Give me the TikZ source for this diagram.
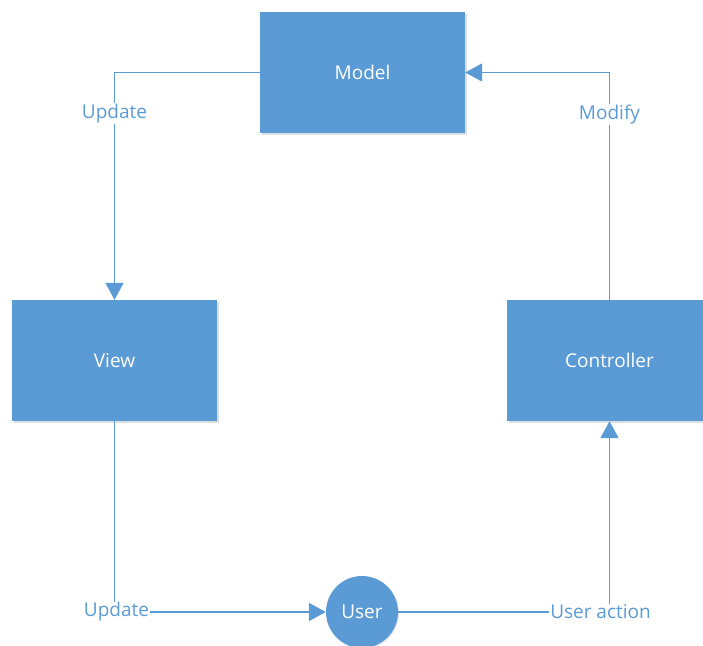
\documentclass[tikz,border=0pt]{standalone}
\usepackage{fontspec}
\setmainfont{Open Sans}
\usetikzlibrary{arrows.meta,shadows}
\definecolor{mvcblue}{RGB}{91,155,213}
\tikzset{
  block/.style={rectangle, fill=mvcblue, text=white, minimum width=205pt,
    minimum height=121pt, inner sep=0pt, font=\fontsize{19}{21}\selectfont,
    drop shadow={shadow xshift=1.5pt, shadow yshift=-1.5pt, opacity=0.25, fill=gray}},
  actor/.style={circle, fill=mvcblue, text=white, minimum size=72pt, inner sep=0pt,
    font=\fontsize{19}{21}\selectfont,
    drop shadow={shadow xshift=1pt, shadow yshift=-1pt, opacity=0.2, fill=gray}},
  link/.style={draw=mvcblue, line width=1.8pt, -{Triangle[length=17pt,width=18pt]}},
  tag/.style={fill=white, text=mvcblue, inner sep=1pt, font=\fontsize{19}{21}\selectfont}
}
\begin{document}
\begin{tikzpicture}[x=1pt, y=-1pt]
  \useasboundingbox (0,0) rectangle (703,645);

  \node[block] (model) at (362.5,72.5) {Model};
  \node[block] (view) at (114.5,360.5) {View};
  \node[block] (controller) at (609.5,360.5) {Controller};
  \node[actor] (user) at (362,612) {User};

  % model updates the view
  \draw[link] (model.west) -| (view.north)
    node[tag, pos=0.59] {Update};
  % view shows the updated state to the user
  \draw[link] (view.south) |- (user.west)
    node[tag, pos=0.5, xshift=2pt] {Update};
  % user actions go to the controller
  \draw[link] (user.east) -| (controller.south)
    node[tag, pos=0.5, xshift=-9pt] {User action};
  % controller modifies the model
  \draw[link] (controller.north) |- (model.east)
    node[tag, pos=0.408] {Modify};
\end{tikzpicture}
\end{document}
